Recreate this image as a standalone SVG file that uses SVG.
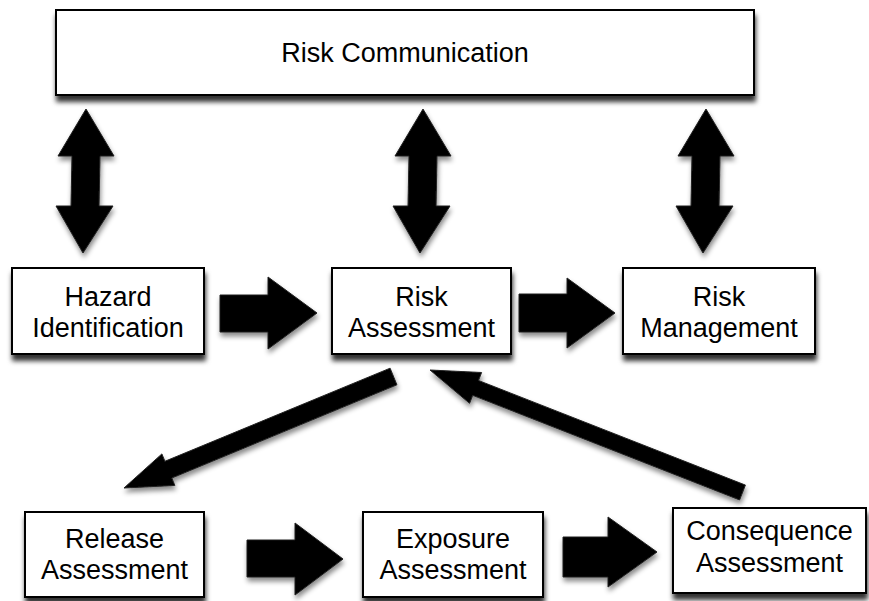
<svg xmlns="http://www.w3.org/2000/svg" width="869" height="601" viewBox="0 0 869 601">
  <defs>
    <filter id="shadow" x="-10%" y="-20%" width="120%" height="150%">
      <feDropShadow dx="1" dy="6" stdDeviation="2.5" flood-color="#000" flood-opacity="0.8"/>
    </filter>
    <filter id="ashadow" x="-20%" y="-20%" width="140%" height="140%">
      <feDropShadow dx="1" dy="4" stdDeviation="2.5" flood-color="#000" flood-opacity="0.45"/>
    </filter>
  </defs>
  <style>
    .box { fill: #ffffff; stroke: #000000; stroke-width: 2; filter: url(#shadow); }
    .lbl { font-family: "Liberation Sans", Arial, Helvetica, sans-serif; font-size: 27px; fill: #000000; text-anchor: middle; }
    .arr { fill: #000000; stroke: #222222; stroke-width: 1; stroke-linejoin: miter; filter: url(#ashadow); }
  </style>
  <rect width="869" height="601" fill="#ffffff"/>

  <g id="connectors">
    <polygon id="vert-left" class="arr" points="86,109 114,156 100,156 99,206 113,206 83,253 56,206 71,206 72,156 58,156"/>
    <polygon id="vert-mid" class="arr" transform="translate(337,0)" points="86,109 114,156 100,156 99,206 113,206 83,253 56,206 71,206 72,156 58,156"/>
    <polygon id="vert-right" class="arr" transform="translate(620,0)" points="86,109 114,156 100,156 99,206 113,206 83,253 56,206 71,206 72,156 58,156"/>

    <polygon id="hz-ra" class="arr" points="220,295 268,295 268,277 317,313 268,349 268,332 220,332"/>
    <polygon id="ra-rm" class="arr" points="519,294 567,294 567,278 615,313 567,348 567,332 519,332"/>

    <polygon id="rel-exp" class="arr" points="247,540 295,540 295,523 343,559 295,595 295,577 247,577"/>
    <polygon id="exp-con" class="arr" points="563,537 608,537 608,517 657,552 608,587 608,577 563,577"/>

    <polygon id="ra-rel" class="arr" points="396.9,384.8 171.8,478 174.8,485.4 124,488 161.9,453.9 164.9,461.3 390.1,368.2"/>
    <polygon id="con-ra" class="arr" points="745.4,485.1 478.5,380.5 481.6,372.5 430,370 469.6,403.3 472.7,395.3 739.6,499.9"/>
  </g>

  <g id="risk-communication">
    <rect class="box" x="56" y="10" width="698" height="85"/>
    <text class="lbl" x="405" y="62">Risk Communication</text>
  </g>

  <g id="hazard-identification">
    <rect class="box" x="12" y="268" width="192" height="86"/>
    <text class="lbl" x="108" y="306">Hazard</text>
    <text class="lbl" x="108" y="337">Identification</text>
  </g>

  <g id="risk-assessment">
    <rect class="box" x="332" y="268" width="179" height="86"/>
    <text class="lbl" x="421.5" y="306">Risk</text>
    <text class="lbl" x="421.5" y="337">Assessment</text>
  </g>

  <g id="risk-management">
    <rect class="box" x="623" y="268" width="192" height="86"/>
    <text class="lbl" x="719" y="306">Risk</text>
    <text class="lbl" x="719" y="337">Management</text>
  </g>

  <g id="release-assessment">
    <rect class="box" x="25" y="512" width="179" height="85"/>
    <text class="lbl" x="114.5" y="548">Release</text>
    <text class="lbl" x="114.5" y="579">Assessment</text>
  </g>

  <g id="exposure-assessment">
    <rect class="box" x="363" y="512" width="180" height="85"/>
    <text class="lbl" x="453" y="548">Exposure</text>
    <text class="lbl" x="453" y="579">Assessment</text>
  </g>

  <g id="consequence-assessment">
    <rect class="box" x="673" y="508" width="193" height="85"/>
    <text class="lbl" x="769.5" y="540">Consequence</text>
    <text class="lbl" x="769.5" y="572">Assessment</text>
  </g>
</svg>
